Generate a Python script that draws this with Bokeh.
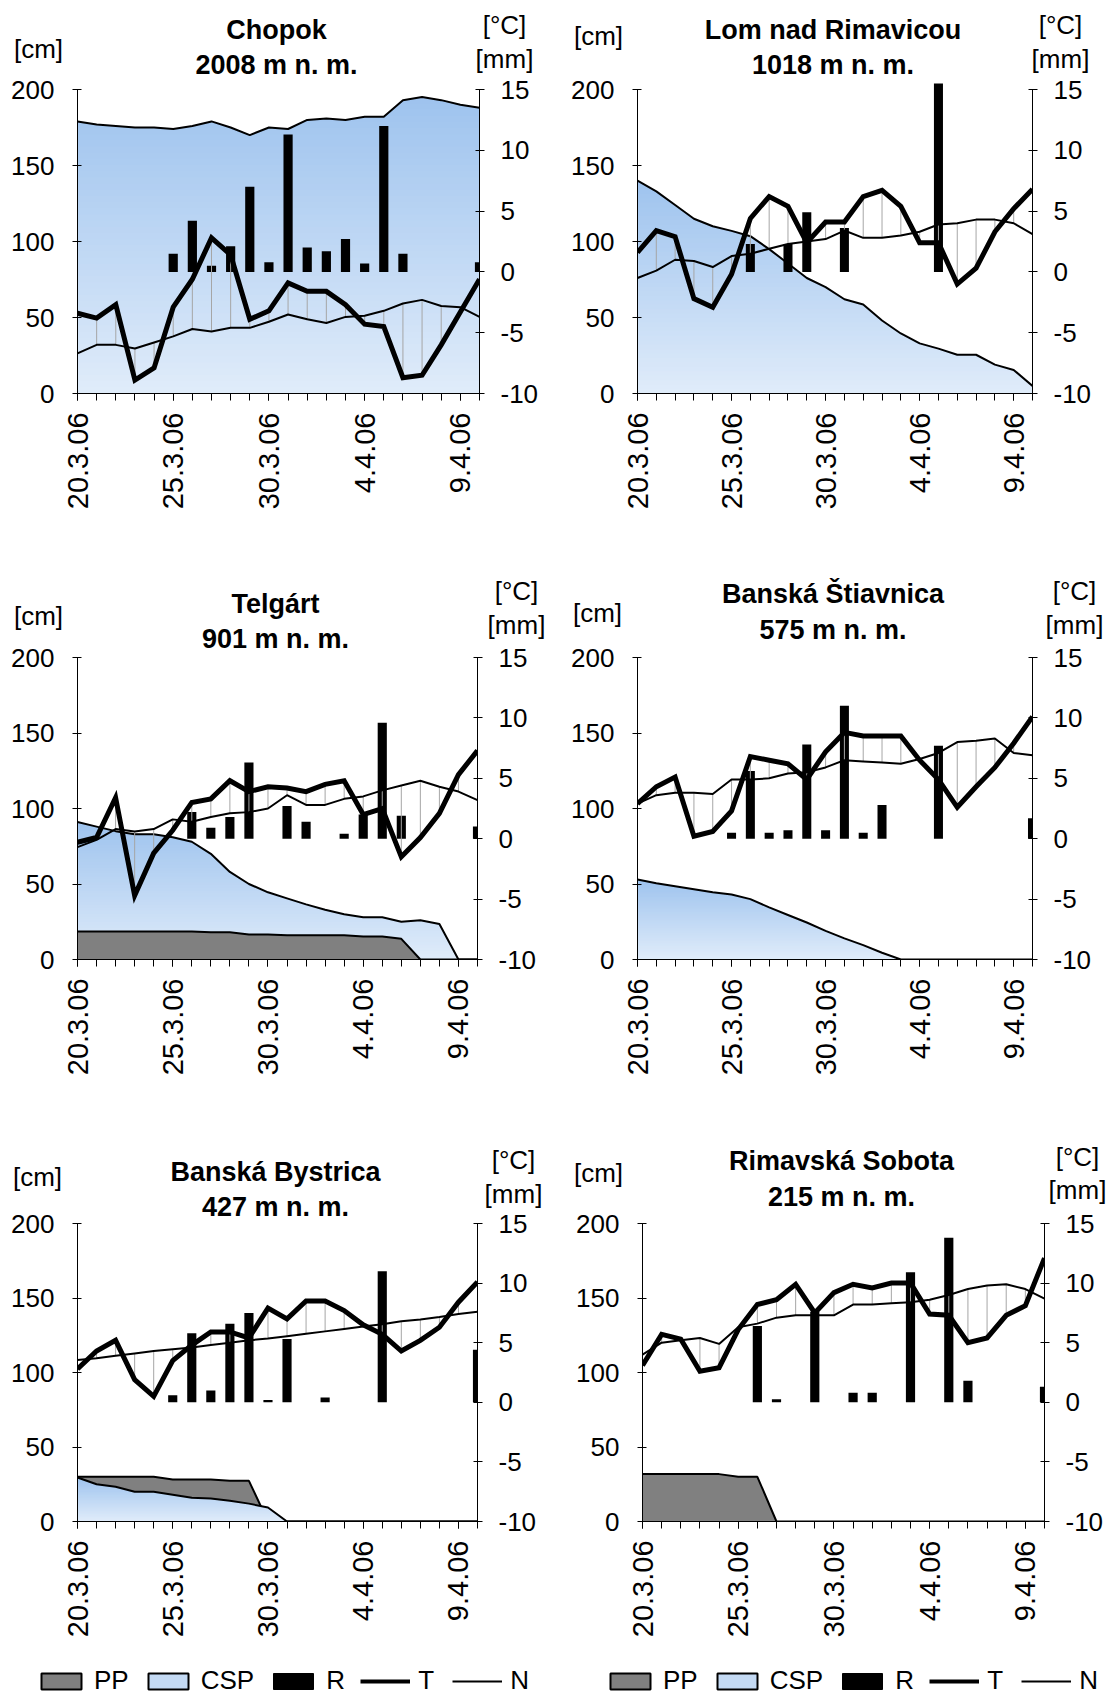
import math
import numpy as np
from bokeh.plotting import figure
from bokeh.models import Range1d, LinearAxis, FixedTicker, Legend, LegendItem
from bokeh.core.properties import value
from bokeh.layouts import column, row
from bokeh.embed import file_html
from bokeh.resources import INLINE

# ---------------------------------------------------------------- data
dates = ["20.3.06", "21.3.06", "22.3.06", "23.3.06", "24.3.06", "25.3.06",
         "26.3.06", "27.3.06", "28.3.06", "29.3.06", "30.3.06", "31.3.06",
         "1.4.06", "2.4.06", "3.4.06", "4.4.06", "5.4.06", "6.4.06",
         "7.4.06", "8.4.06", "9.4.06", "10.4.06"]
labelled_days = [0, 5, 10, 15, 20]
cm_ticks = [0, 50, 100, 150, 200]
deg_ticks = [-10, -5, 0, 5, 10, 15]

# Chopok, 2008 m
chopok_csp = [179, 177, 176, 175, 175, 174, 176, 179, 175, 170, 175, 174,
              180, 181, 180, 182, 182, 193, 195, 193, 190, 188]
chopok_pp = [0] * 22
chopok_r = [0, 0, 0, 0, 0, 1.5, 4.2, 0.5, 2.1, 7.0, 0.8, 11.3, 2.0, 1.7,
            2.7, 0.7, 12.0, 1.5, 0, 0, 0, 0.8]
chopok_t = [-3.4, -3.8, -2.7, -8.9, -7.9, -2.9, -0.6, 2.8, 1.4, -3.9, -3.2,
            -0.9, -1.6, -1.6, -2.7, -4.3, -4.5, -8.7, -8.5, -6.0, -3.3, -0.6]
chopok_n = [-6.7, -6.0, -6.0, -6.3, -5.8, -5.3, -4.7, -4.9, -4.6, -4.6, -4.1,
            -3.5, -3.9, -4.2, -3.7, -3.6, -3.2, -2.6, -2.3, -2.8, -2.9, -3.7]

# Lom nad Rimavicou, 1018 m
lom_csp = [140, 133, 124, 115, 110, 107, 103.5, 95, 85.5, 76, 70, 62, 58.5,
           48, 39.5, 33, 29.5, 25.5, 25.5, 19, 15.5, 5]
lom_pp = [0] * 22
lom_r = [0, 0, 0, 0, 0, 0, 2.3, 0, 2.3, 4.9, 0, 3.6, 0, 0, 0, 0, 15.5, 0, 0,
         0, 0, 0]
lom_t = [1.6, 3.4, 2.9, -2.2, -2.9, -0.2, 4.4, 6.2, 5.4, 2.4, 4.1, 4.1, 6.2,
         6.7, 5.4, 2.4, 2.4, -1.0, 0.3, 3.3, 5.2, 6.8]
lom_n = [-0.5, 0.1, 1.0, 0.9, 0.4, 1.3, 1.5, 1.9, 2.3, 2.5, 2.7, 3.4, 2.8,
         2.8, 3.0, 3.3, 3.9, 4.0, 4.3, 4.3, 4.0, 3.1]

# Telgárt, 901 m
telgart_csp = [91, 88, 85, 83, 83, 81, 78, 70, 58, 50, 44.5, 40.5, 36.5, 33,
               30, 28, 28, 25, 26, 23.5, 0, 0]
telgart_pp = [18.6, 18.6, 18.6, 18.6, 18.6, 18.6, 18.6, 18.0, 18.0, 16.6,
              16.6, 16.0, 16.0, 16.0, 16.0, 15.2, 15.2, 13.7, 0, 0, 0, 0]
telgart_r = [0, 0, 0, 0, 0, 0, 2.2, 0.9, 1.8, 6.3, 0, 2.7, 1.4, 0, 0.4, 2.0,
             9.6, 1.9, 0, 0, 0, 1.0]
telgart_t = [-0.3, 0.1, 3.4, -4.7, -1.2, 0.7, 3.0, 3.3, 4.8, 3.9, 4.3, 4.2,
             3.9, 4.5, 4.8, 2.0, 2.5, -1.5, 0.1, 2.1, 5.3, 7.3]
telgart_n = [-0.7, -0.1, 0.8, 0.6, 0.8, 1.6, 1.4, 1.8, 2.1, 2.2, 2.5, 3.6,
             2.8, 2.8, 3.3, 3.5, 4.0, 4.4, 4.8, 4.3, 3.9, 3.2]

# Banská Štiavnica, 575 m
stiavnica_csp = [53, 50.5, 48.5, 46.5, 44.5, 43, 40, 34.5, 29.5, 24.5, 19,
                 14, 9.5, 4.5, 0, 0, 0, 0, 0, 0, 0, 0]
stiavnica_pp = [0] * 22
stiavnica_r = [0, 0, 0, 0, 0, 0.5, 5.6, 0.5, 0.7, 7.8, 0.7, 11.0, 0.5, 2.8,
               0, 0, 7.7, 0, 0, 0, 0, 1.7]
stiavnica_t = [2.9, 4.3, 5.1, 0.2, 0.6, 2.3, 6.8, 6.5, 6.2, 4.9, 7.2, 8.8,
               8.5, 8.5, 8.5, 6.5, 4.9, 2.6, 4.3, 5.9, 7.9, 10.1]
stiavnica_n = [2.9, 3.6, 3.8, 3.8, 3.7, 4.9, 4.9, 5.0, 5.4, 5.5, 5.9, 6.5,
               6.4, 6.3, 6.2, 6.6, 7.1, 8.0, 8.1, 8.3, 7.1, 6.9]

# Banská Bystrica, 427 m
bystrica_csp = [29.5, 25, 23.3, 20, 20, 18, 16, 15.4, 14, 12, 9.4, 0, 0, 0,
                0, 0, 0, 0, 0, 0, 0, 0]
bystrica_pp = [30, 30, 30, 30, 30, 28.2, 28.2, 28.2, 27.3, 27.3, 0, 0, 0, 0,
               0, 0, 0, 0, 0, 0, 0, 0]
bystrica_r = [0, 0, 0, 0, 0, 0.6, 5.8, 1.0, 6.6, 7.5, 0.2, 5.3, 0, 0.4, 0, 0,
              11.0, 0, 0, 0, 0, 4.4]
bystrica_t = [2.8, 4.3, 5.2, 1.9, 0.5, 3.5, 4.8, 5.9, 5.9, 5.4, 7.9, 7.0, 8.5,
              8.5, 7.7, 6.5, 5.7, 4.3, 5.2, 6.3, 8.4, 10.1]
bystrica_n = [3.55, 3.7, 3.9, 4.1, 4.3, 4.45, 4.6, 4.8, 5.0, 5.2, 5.35, 5.55,
              5.75, 5.95, 6.15, 6.35, 6.55, 6.8, 6.95, 7.15, 7.4, 7.6]

# Rimavská Sobota, 215 m
sobota_csp = [0] * 22
sobota_pp = [31.8, 31.8, 31.8, 31.8, 31.8, 30, 30, 0, 0, 0, 0, 0, 0, 0, 0, 0,
             0, 0, 0, 0, 0, 0]
sobota_r = [0, 0, 0, 0, 0, 0, 6.4, 0.25, 0, 7.6, 0, 0.8, 0.8, 0, 10.9, 0,
            13.8, 1.8, 0, 0, 0, 1.3]
sobota_t = [3.1, 5.7, 5.3, 2.6, 2.9, 6.1, 8.2, 8.6, 9.9, 7.5, 9.2, 9.9, 9.6,
            10.0, 10.0, 7.4, 7.3, 5.0, 5.4, 7.3, 8.1, 12.1]
sobota_n = [4.0, 5.0, 5.2, 5.4, 4.9, 6.3, 6.6, 7.1, 7.3, 7.3, 7.3, 8.2, 8.2,
            8.3, 8.4, 8.6, 9.0, 9.5, 9.8, 9.9, 9.5, 8.7]

stations = [
    ("Chopok", "2008 m n. m.", chopok_csp, chopok_pp, chopok_r, chopok_t, chopok_n),
    ("Lom nad Rimavicou", "1018 m n. m.", lom_csp, lom_pp, lom_r, lom_t, lom_n),
    ("Telgárt", "901 m n. m.", telgart_csp, telgart_pp, telgart_r, telgart_t, telgart_n),
    ("Banská Štiavnica", "575 m n. m.", stiavnica_csp, stiavnica_pp, stiavnica_r,
     stiavnica_t, stiavnica_n),
    ("Banská Bystrica", "427 m n. m.", bystrica_csp, bystrica_pp, bystrica_r,
     bystrica_t, bystrica_n),
    ("Rimavská Sobota", "215 m n. m.", sobota_csp, sobota_pp, sobota_r, sobota_t,
     sobota_n),
]

# ---------------------------------------------------------------- layout
PAGE_W, PAGE_H = 1109, 1697
COL_W = [555, 554]
ROW_H = [563, 567, 510]
LEGEND_H = 57
# frame borders per panel (left, right, top, bottom), top measured to the 200 cm level
borders = [
    (77, 76, 89, 170), (82, 77, 89, 170),
    (77, 78, 94, 171), (82, 77, 94, 171),
    (77, 78, 93, 119), (87, 65, 93, 119),
]
# headroom (px) above the top tick where tall bars may still show
HEADROOM = 8
# text positions in px: title lines (above frame top), [cm], [°C]/[mm]
text_pos = [
    dict(t1=60, t2=25, cm=(-39, 41), deg=(25, 65), mm=(25, 31)),
    dict(t1=60, t2=25, cm=(-39, 54), deg=(28, 65), mm=(28, 31)),
    dict(t1=54, t2=19, cm=(-39, 42), deg=(39, 67), mm=(39, 33)),
    dict(t1=64, t2=28, cm=(-40, 45), deg=(42, 67), mm=(42, 33)),
    dict(t1=52, t2=17, cm=(-40, 47), deg=(36, 64), mm=(36, 30)),
    dict(t1=63, t2=27, cm=(-44, 51), deg=(33, 67), mm=(33, 34)),
]

FONT = "Liberation Sans"
TICK_SIZE = "26px"
XTICK_SIZE = "29px"
TEXT_SIZE = "26px"
TITLE_SIZE = "27px"

BLUE_TOP = np.array([158, 195, 238])
BLUE_BOTTOM = np.array([224, 236, 250])
GREY = "#808080"


def split_at_levels(x, y, levels):
    """Insert the points where the polyline crosses each level."""
    xs, ys = [x[0]], [y[0]]
    for i in range(len(x) - 1):
        x0, x1, y0, y1 = x[i], x[i + 1], y[i], y[i + 1]
        ts = []
        if y1 != y0:
            for lv in levels:
                tt = (lv - y0) / (y1 - y0)
                if 0 < tt < 1:
                    ts.append(tt)
        for tt in sorted(ts):
            xs.append(x0 + tt * (x1 - x0))
            ys.append(y0 + tt * (y1 - y0))
        xs.append(x1)
        ys.append(y1)
    return np.array(xs), np.array(ys)


def draw_csp(p, x, csp):
    csp = np.asarray(csp, dtype=float)
    top = csp.max()
    if top <= 0:
        return
    nb = 48
    edges = np.linspace(0, top, nb + 1)
    xs, ys = split_at_levels(x, csp, edges[1:-1])
    # darkest layer first, each lighter layer covers the lower part
    for j in range(nb - 1, -1, -1):
        f = (j + 0.5) / nb
        c = BLUE_BOTTOM + (BLUE_TOP - BLUE_BOTTOM) * f
        col = "#%02x%02x%02x" % tuple(int(round(v)) for v in c)
        p.varea(x=xs, y1=0, y2=np.minimum(ys, edges[j + 1]), fill_color=col)
    p.line(x, csp, line_color="black", line_width=2)


def draw_pp(p, x, pp):
    pp = np.asarray(pp, dtype=float)
    if pp.max() <= 0:
        return
    p.varea(x=x, y1=0, y2=pp, fill_color=GREY)
    p.line(x, pp, line_color="black", line_width=2)


def make_panel(st, w, h, bd):
    name, elev, csp, pp, r, t, n = st
    bl, br, bt, bb = bd
    frame_h = h - bt - bb
    cm_lo, cm_hi = cm_ticks[0], cm_ticks[-1]
    dg_lo, dg_hi = deg_ticks[0], deg_ticks[-1]
    extra = HEADROOM / frame_h
    x = np.arange(len(dates), dtype=float)
    p = figure(width=w, height=h, x_range=Range1d(0, len(dates) - 1),
               y_range=Range1d(cm_lo, cm_hi + (cm_hi - cm_lo) * extra),
               toolbar_location=None, output_backend="svg",
               min_border_left=bl, min_border_right=br,
               min_border_top=bt - HEADROOM, min_border_bottom=bb)
    p.extra_y_ranges = {"temp": Range1d(dg_lo, dg_hi + (dg_hi - dg_lo) * extra)}
    p.outline_line_color = None
    p.xgrid.visible = False
    p.ygrid.visible = False
    p.background_fill_color = "white"
    p.border_fill_color = "white"

    # snow cover areas: the larger one goes underneath
    if sum(pp) > sum(csp):
        draw_pp(p, x, pp)
        draw_csp(p, x, csp)
    else:
        draw_csp(p, x, csp)
        draw_pp(p, x, pp)

    # precipitation bars on the right-hand scale
    p.vbar(x=x, width=0.48, bottom=0, top=r, y_range_name="temp",
           fill_color="black", line_color=None)
    # departures between measured and normal temperature
    p.segment(x0=x, y0=t, x1=x, y1=n, y_range_name="temp",
              line_color="#a6a6a6", line_width=1)
    p.line(x, n, y_range_name="temp", line_color="black", line_width=2)
    p.line(x, t, y_range_name="temp", line_color="black", line_width=5,
           line_join="miter")

    # axes
    xa = p.xaxis[0]
    xa.ticker = FixedTicker(ticks=labelled_days, minor_ticks=list(range(len(dates))))
    xa.major_label_overrides = {i: dates[i] for i in labelled_days}
    xa.major_label_orientation = math.pi / 2
    xa.major_tick_in = 0
    xa.major_tick_out = 7
    xa.minor_tick_in = 0
    xa.minor_tick_out = 7
    xa.minor_tick_line_color = "black"
    xa.major_label_standoff = 12
    xa.major_label_text_font_size = XTICK_SIZE

    ya = p.yaxis[0]
    ya.ticker = FixedTicker(ticks=cm_ticks)
    ya.bounds = (cm_lo, cm_hi)
    ya.major_label_standoff = 18

    ra = LinearAxis(y_range_name="temp", ticker=FixedTicker(ticks=deg_ticks),
                    bounds=(dg_lo, dg_hi))
    ra.major_label_overrides = {v: str(v) for v in deg_ticks}
    ra.major_label_standoff = 16
    p.add_layout(ra, "right")

    for ax in (xa, ya, ra):
        ax.axis_line_color = "black"
        ax.axis_line_width = 1
        ax.major_tick_line_color = "black"
        ax.major_label_text_font = FONT
        ax.major_label_text_color = "black"
    for ax in (ya, ra):
        ax.major_tick_in = 4
        ax.major_tick_out = 5
        ax.minor_tick_line_color = None
        ax.major_label_text_font_size = TICK_SIZE
    return p


def make_legend(width, x0):
    lf = figure(width=width, height=LEGEND_H, toolbar_location=None,
                output_backend="svg", min_border=0, min_border_left=0,
                min_border_right=0, min_border_top=0, min_border_bottom=0,
                x_range=Range1d(0, 1), y_range=Range1d(0, 1),
                x_axis_type=None, y_axis_type=None)
    lf.outline_line_color = None
    # swatch renderers hold one point outside the visible range
    r_pp = lf.quad(left=[2], right=[3], top=[3], bottom=[2], fill_color=GREY,
                   line_color="black", line_width=2)
    r_csp = lf.quad(left=[2], right=[3], top=[3], bottom=[2], fill_color="#c4daf4",
                    line_color="black", line_width=2)
    r_r = lf.quad(left=[2], right=[3], top=[3], bottom=[2], fill_color="black",
                  line_color="black", line_width=1)
    r_t = lf.line(x=[2, 3], y=[2, 2], line_color="black", line_width=4)
    r_n = lf.line(x=[2, 3], y=[2, 2], line_color="black", line_width=2)
    leg = Legend(items=[LegendItem(label="PP", renderers=[r_pp]),
                        LegendItem(label="CSP", renderers=[r_csp]),
                        LegendItem(label="R", renderers=[r_r]),
                        LegendItem(label="T", renderers=[r_t]),
                        LegendItem(label="N", renderers=[r_n])],
                 orientation="horizontal", location=(x0, 1),
                 glyph_width=50, glyph_height=20, label_height=20,
                 label_standoff=8, spacing=14, padding=0, margin=0,
                 border_line_color=None, background_fill_alpha=0,
                 label_text_font=FONT, label_text_font_size="26px",
                 label_text_color="black")
    lf.add_layout(leg)
    return lf


def make_text_layer():
    """Transparent page-sized layer carrying titles and unit labels."""
    tl = figure(width=PAGE_W, height=PAGE_H, x_range=Range1d(0, PAGE_W),
                y_range=Range1d(PAGE_H, 0), x_axis_type=None, y_axis_type=None,
                toolbar_location=None, output_backend="svg", min_border=0,
                min_border_left=0, min_border_right=0, min_border_top=0,
                min_border_bottom=0, styles={"margin-top": "-%dpx" % PAGE_H})
    tl.outline_line_color = None
    tl.background_fill_alpha = 0
    tl.border_fill_alpha = 0
    tx, ty, tt, ux, uy, ut = [], [], [], [], [], []
    for i, (st, bd, tp) in enumerate(zip(stations, borders, text_pos)):
        rr, cc = divmod(i, 2)
        x0 = sum(COL_W[:cc])
        y0 = sum(ROW_H[:rr])
        bl, br, bt, bb = bd
        left, right, top = x0 + bl, x0 + COL_W[cc] - br, y0 + bt
        tx += [(left + right) / 2 - 2] * 2
        ty += [top - tp["t1"], top - tp["t2"]]
        tt += [st[0], st[1]]
        ux += [left + tp["cm"][0], right + tp["deg"][0], right + tp["mm"][0]]
        uy += [top - tp["cm"][1], top - tp["deg"][1], top - tp["mm"][1]]
        ut += ["[cm]", "[°C]", "[mm]"]
    tl.text(x=tx, y=ty, text=tt, text_align="center", text_baseline="middle",
            text_font=value(FONT), text_font_size=value(TITLE_SIZE),
            text_font_style="bold", text_color="black")
    tl.text(x=ux, y=uy, text=ut, text_align="center", text_baseline="middle",
            text_font=value(FONT), text_font_size=value(TEXT_SIZE),
            text_color="black")
    return tl


panels = [make_panel(st, COL_W[i % 2], ROW_H[i // 2], bd)
          for i, (st, bd) in enumerate(zip(stations, borders))]
layout = column(row(panels[0], panels[1]),
                row(panels[2], panels[3]),
                row(panels[4], panels[5]),
                row(make_legend(COL_W[0], 36), make_legend(COL_W[1], 50)),
                make_text_layer())

open("out.html", "w").write(file_html(layout, INLINE))
